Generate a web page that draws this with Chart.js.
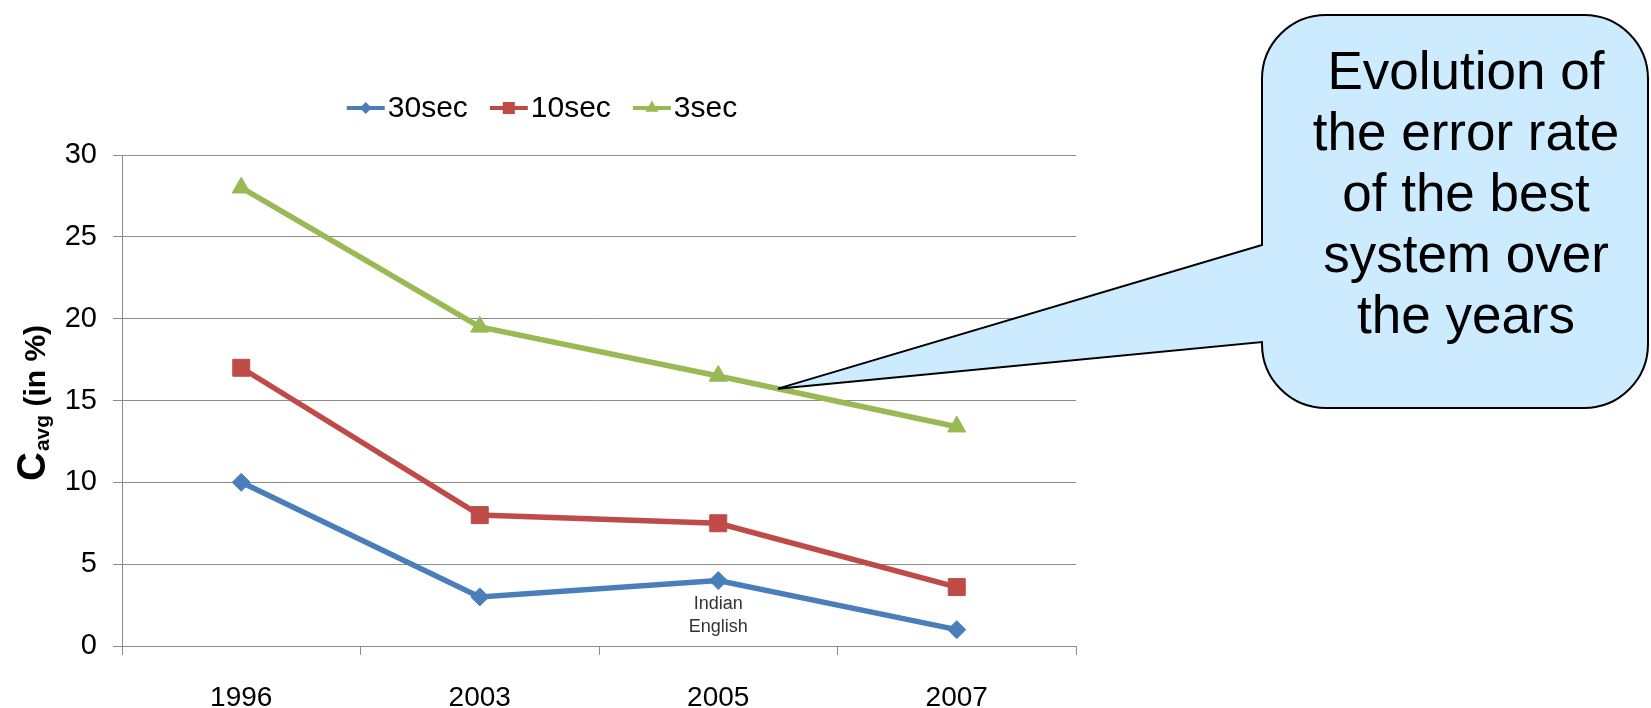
<!DOCTYPE html>
<html>
<head>
<meta charset="utf-8">
<script src="https://cdn.jsdelivr.net/npm/chart.js@4/dist/chart.umd.min.js"></script>
<style>
  html, body { margin: 0; padding: 0; background: #ffffff; }
  #wrap { position: relative; width: 1651px; height: 708px; }
</style>
</head>
<body>
<div id="wrap"><canvas id="c" width="1651" height="708"></canvas></div>
<script>
// Best-system error rate (Cavg, %) per evaluation year and test duration
const years = ['1996', '2003', '2005', '2007'];
const cavg30sec = [10, 3, 4, 1];
const cavg10sec = [17, 8, 7.5, 3.6];
const cavg3sec = [28, 19.5, 16.5, 13.4];
const seriesNames = ['30sec', '10sec', '3sec'];
const yMin = 0, yMax = 30, yStep = 5;
const calloutLines = ['Evolution of', 'the error rate', 'of the best', 'system over', 'the years'];
const noteLines = ['Indian', 'English'];
const noteYear = '2005';

const FONT = '"Liberation Sans", Arial, Helvetica, sans-serif';
const BLUE = '#4A7EBB', RED = '#BE4B48', GREEN = '#98B954';
const GRID = '#8C8C8C';

const styles = [
  { color: BLUE, pointStyle: 'rectRot', radius: 9, legendRadius: 6 },
  { color: RED, pointStyle: 'rect', radius: 12, legendRadius: 8.5 },
  { color: GREEN, pointStyle: 'triangle', radius: 10.5, legendRadius: 7.5 }
];
const seriesValues = [cavg30sec, cavg10sec, cavg3sec];

const datasets = seriesNames.map((name, i) => ({
  label: name,
  data: seriesValues[i],
  borderColor: styles[i].color,
  backgroundColor: styles[i].color,
  borderWidth: 5.5,
  tension: 0,
  pointStyle: styles[i].pointStyle,
  pointRadius: styles[i].radius,
  pointHoverRadius: styles[i].radius,
  pointBackgroundColor: styles[i].color,
  pointBorderColor: styles[i].color,
  pointBorderWidth: 1,
  clip: false
}));

// Legend: short line with the series marker, then the series name
const lineLegend = {
  id: 'lineLegend',
  afterDraw(chart) {
    const ctx = chart.ctx;
    const lineW = 38, gapText = 3, gapItem = 22;
    ctx.save();
    ctx.font = '30px ' + FONT;
    const widths = chart.data.datasets.map(d => lineW + gapText + ctx.measureText(d.label).width);
    const total = widths.reduce((a, b) => a + b, 0) + gapItem * (widths.length - 1);
    let x = chart.chartArea.right / 2 - total / 2 + 4;
    const y = 108;
    chart.data.datasets.forEach((d, i) => {
      ctx.strokeStyle = d.borderColor;
      ctx.lineWidth = 4;
      ctx.beginPath();
      ctx.moveTo(x, y);
      ctx.lineTo(x + lineW, y);
      ctx.stroke();
      ctx.fillStyle = d.borderColor;
      Chart.helpers.drawPoint(ctx, {
        pointStyle: styles[i].pointStyle, rotation: 0,
        radius: styles[i].legendRadius, borderWidth: 0
      }, x + lineW / 2, y);
      ctx.fillStyle = '#000000';
      ctx.textBaseline = 'middle';
      ctx.textAlign = 'left';
      ctx.fillText(d.label, x + lineW + gapText, y + 1);
      x += widths[i] + gapItem;
    });
    ctx.restore();
  }
};

// Vertical axis title with subscript: C_avg (in %)
const yTitle = {
  id: 'yTitle',
  afterDraw(chart) {
    const ctx = chart.ctx;
    ctx.save();
    ctx.translate(45, 481);
    ctx.rotate(-Math.PI / 2);
    ctx.fillStyle = '#000000';
    ctx.textBaseline = 'alphabetic';
    ctx.textAlign = 'left';
    let x = 0;
    ctx.font = 'bold 40px ' + FONT;
    ctx.fillText('C', x, 0);
    x += ctx.measureText('C').width + 1;
    ctx.font = 'bold 21px ' + FONT;
    ctx.fillText('avg', x, 4);
    x += ctx.measureText('avg').width;
    ctx.font = 'bold 30px ' + FONT;
    ctx.fillText(' (in %)', x, 0);
    ctx.restore();
  }
};

// Small note under the 2005 point of the 30sec series
const pointNote = {
  id: 'pointNote',
  afterDraw(chart) {
    const ctx = chart.ctx;
    const xs = chart.scales.x, ys = chart.scales.y;
    const idx = years.indexOf(noteYear);
    const px = xs.getPixelForValue(idx);
    const py = ys.getPixelForValue(cavg30sec[idx]);
    ctx.save();
    ctx.font = '18px ' + FONT;
    ctx.fillStyle = '#333333';
    ctx.textAlign = 'center';
    ctx.textBaseline = 'middle';
    noteLines.forEach((t, k) => ctx.fillText(t, px, py + 23 + k * 23));
    ctx.restore();
  }
};

// Speech-bubble callout pointing at the 3sec line between 2005 and 2007
const callout = {
  id: 'callout',
  afterDraw(chart) {
    const ctx = chart.ctx;
    const pts = chart.getDatasetMeta(2).data;
    const a = pts[2], b = pts[3];
    const tipX = a.x + (b.x - a.x) * 0.25;
    const tipY = a.y + (b.y - a.y) * 0.25;
    const L = 1262, R = 1648, T = 15, B = 408, r = 64;
    const tailTop = 245, tailBottom = 342;
    ctx.save();
    ctx.beginPath();
    ctx.moveTo(L, tailTop);
    ctx.lineTo(L, T + r);
    ctx.arcTo(L, T, L + r, T, r);
    ctx.lineTo(R - r, T);
    ctx.arcTo(R, T, R, T + r, r);
    ctx.lineTo(R, B - r);
    ctx.arcTo(R, B, R - r, B, r);
    ctx.lineTo(L + r, B);
    ctx.arcTo(L, B, L, B - r, r);
    ctx.lineTo(L, tailBottom);
    ctx.lineTo(tipX, tipY);
    ctx.closePath();
    ctx.fillStyle = '#CDEBFE';
    ctx.fill();
    ctx.lineWidth = 2;
    ctx.lineJoin = 'miter';
    ctx.strokeStyle = '#000000';
    ctx.stroke();
    ctx.font = '53px ' + FONT;
    ctx.fillStyle = '#000000';
    ctx.textAlign = 'center';
    ctx.textBaseline = 'alphabetic';
    calloutLines.forEach((t, k) => ctx.fillText(t, 1466, 89 + k * 61));
    ctx.restore();
  }
};

new Chart(document.getElementById('c'), {
  type: 'line',
  data: { labels: years, datasets },
  options: {
    responsive: false,
    devicePixelRatio: 1,
    animation: false,
    layout: { padding: { left: 0, top: 155, right: 575, bottom: 0 } },
    plugins: { legend: { display: false }, tooltip: { enabled: false } },
    scales: {
      x: {
        type: 'category',
        offset: true,
        grid: { offset: true, drawOnChartArea: false, drawTicks: true, tickLength: 9, color: GRID, lineWidth: 1 },
        border: { color: GRID, width: 1 },
        ticks: { color: '#000000', font: { family: FONT, size: 28 }, padding: 26, maxRotation: 0 },
        afterFit(s) { s.height = 62; }
      },
      y: {
        min: yMin, max: yMax,
        grid: { color: GRID, lineWidth: 1, tickLength: 9 },
        border: { color: GRID, width: 1 },
        ticks: { stepSize: yStep, color: '#000000', font: { family: FONT, size: 29 }, padding: 16 },
        afterFit(s) { s.width = 122; }
      }
    }
  },
  plugins: [lineLegend, yTitle, pointNote, callout]
});
</script>
</body>
</html>
